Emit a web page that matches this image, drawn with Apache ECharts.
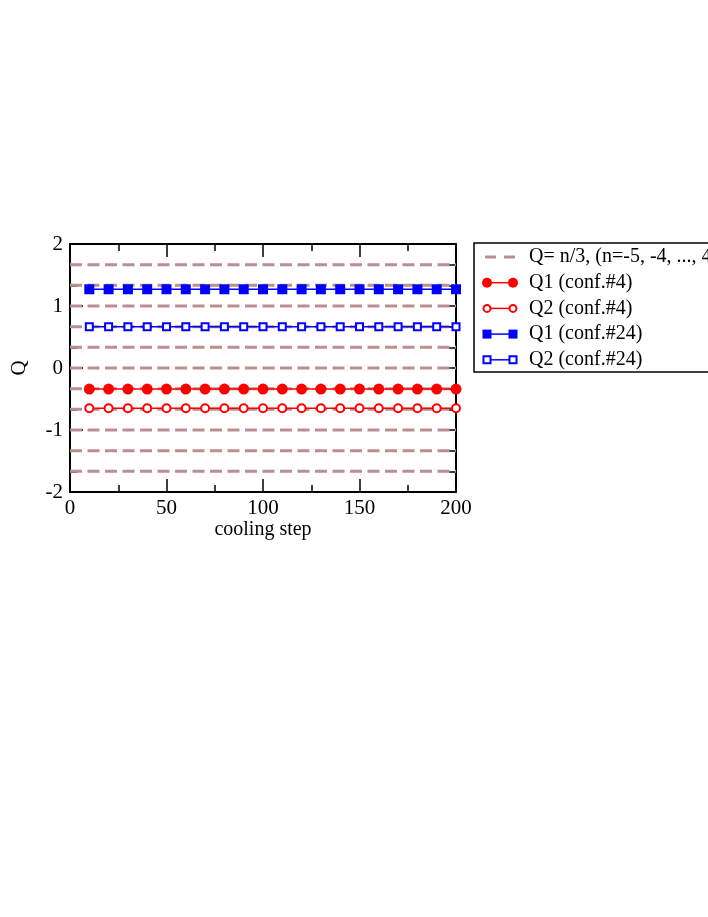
<!DOCTYPE html>
<html>
<head>
<meta charset="utf-8">
<script src="https://cdn.jsdelivr.net/npm/echarts@6/dist/echarts.min.js"></script>
<style>html,body{margin:0;padding:0;background:#fff}#c{width:708px;height:917px}</style>
</head>
<body>
<div id="c"></div>
<script>
const steps = [10,20,30,40,50,60,70,80,90,100,110,120,130,140,150,160,170,180,190,200];
const q1conf4  = [-0.34,-0.34,-0.34,-0.34,-0.34,-0.34,-0.34,-0.34,-0.34,-0.34,-0.34,-0.34,-0.34,-0.34,-0.34,-0.34,-0.34,-0.34,-0.34,-0.34];
const q2conf4  = [-0.65,-0.65,-0.65,-0.65,-0.65,-0.65,-0.65,-0.65,-0.65,-0.65,-0.65,-0.65,-0.65,-0.65,-0.65,-0.65,-0.65,-0.65,-0.65,-0.65];
const q1conf24 = [1.27,1.27,1.27,1.27,1.27,1.27,1.27,1.27,1.27,1.27,1.27,1.27,1.27,1.27,1.27,1.27,1.27,1.27,1.27,1.27];
const q2conf24 = [0.665,0.665,0.665,0.665,0.665,0.665,0.665,0.665,0.665,0.665,0.665,0.665,0.665,0.665,0.665,0.665,0.665,0.665,0.665,0.665];
const nValues = [-5,-4,-3,-2,-1,0,1,2,3,4,5];
const xRange = [0, 200];
const yRange = [-2, 2];
const names = ['Q= n/3, (n=-5, -4, ..., 4, 5)', 'Q1 (conf.#4)', 'Q2 (conf.#4)', 'Q1 (conf.#24)', 'Q2 (conf.#24)'];

const font = 'Liberation Serif';
const RED = '#ff0000', BLUE = '#0000ff', REF = '#bc8f8f';
const refData = [];
nValues.forEach(n => { refData.push([xRange[0], n/3]); refData.push([xRange[1], n/3]); refData.push('-'); });
const pair = arr => steps.map((s,i)=>[s, arr[i]]);

// legend drawn with graphic elements (two markers per entry like the original)
const legendStyles = [
  {kind:'dash'},
  {kind:'circle', fill:RED, stroke:RED, color:RED},
  {kind:'circle', fill:'#fff', stroke:RED, color:RED, hollow:true},
  {kind:'rect', fill:BLUE, stroke:BLUE, color:BLUE},
  {kind:'rect', fill:'#fff', stroke:BLUE, color:BLUE, hollow:true}
];
const LX = 474, LY = 243, LH = 129, rowY0 = 257, rowGap = 25.7, x1 = 487, x2 = 513, tx = 529;
const g = [{type:'rect', shape:{x:LX, y:LY, width:400, height:LH}, style:{fill:'#fff', stroke:'#000', lineWidth:1.5}, z:10}];
legendStyles.forEach((s,i) => {
  const y = rowY0 + i*rowGap;
  if (s.kind === 'dash') {
    g.push({type:'line', shape:{x1:485, y1:y, x2:516, y2:y}, style:{stroke:REF, lineWidth:3, lineDash:[11,8]}, z:11});
  } else {
    g.push({type:'line', shape:{x1:x1, y1:y, x2:x2, y2:y}, style:{stroke:s.color, lineWidth:1.5}, z:11});
    [x1,x2].forEach(cx => {
      if (s.kind === 'circle') {
        g.push({type:'circle', shape:{cx:cx, cy:y, r: s.hollow?3.5:5}, style:{fill:s.fill, stroke:s.stroke, lineWidth:s.hollow?2:0}, z:12});
      } else {
        const h = s.hollow?3.5:4.5;
        g.push({type:'rect', shape:{x:cx-h, y:y-h, width:2*h, height:2*h}, style:{fill:s.fill, stroke:s.stroke, lineWidth:s.hollow?2:0}, z:12});
      }
    });
  }
  g.push({type:'text', x:tx, y:y, style:{text:names[i], fontFamily:font, fontSize:20, fill:'#000', verticalAlign:'middle', align:'left'}, z:12});
});

const axisCommon = {
  axisLine: {show:true, onZero:false, lineStyle:{color:'#000', width:2}},
  splitLine: {show:false},
};
const tick = {inside:true, length:13, lineStyle:{color:'#000', width:1.5}};
const chart = echarts.init(document.getElementById('c'));
chart.setOption({
  animation: false,
  backgroundColor: '#fff',
  grid: {left:70, right:252, top:244, bottom:425, containLabel:false},
  xAxis: [
    Object.assign({type:'value', min:xRange[0], max:xRange[1], interval:50, position:'bottom',
      name:'cooling step', nameLocation:'middle', nameGap:27,
      nameTextStyle:{fontFamily:font, fontSize:20, color:'#000'},
      axisTick:tick,
      minorTick:{show:true, splitNumber:2, length:7, lineStyle:{color:'#000', width:1.5}},
      axisLabel:{fontFamily:font, fontSize:21, color:'#000', margin:6}}, axisCommon),
    Object.assign({type:'value', min:xRange[0], max:xRange[1], interval:50, position:'top',
      axisTick:tick,
      minorTick:{show:true, splitNumber:2, length:7, lineStyle:{color:'#000', width:1.5}},
      axisLabel:{show:false}}, axisCommon)
  ],
  yAxis: [
    Object.assign({type:'value', min:yRange[0], max:yRange[1], interval:1, position:'left',
      name:'Q', nameLocation:'middle', nameGap:40, nameRotate:90,
      nameTextStyle:{fontFamily:font, fontSize:21, color:'#000'},
      axisTick:tick,
      minorTick:{show:true, splitNumber:3, length:7, lineStyle:{color:'#000', width:1.5}},
      axisLabel:{fontFamily:font, fontSize:21, color:'#000', margin:7}}, axisCommon),
    Object.assign({type:'value', min:yRange[0], max:yRange[1], interval:1, position:'right',
      axisTick:tick,
      minorTick:{show:true, splitNumber:3, length:7, lineStyle:{color:'#000', width:1.5}},
      axisLabel:{show:false}}, axisCommon)
  ],
  graphic: g,
  series: [
    {name:names[0], type:'line', data:refData, connectNulls:false, showSymbol:false, symbol:'none', z:1,
     lineStyle:{color:REF, width:3, type:[12,5.5]}, itemStyle:{color:REF}},
    {name:names[1], type:'line', data:pair(q1conf4), symbol:'circle', symbolSize:11,
     lineStyle:{color:RED, width:1.5}, itemStyle:{color:RED}},
    {name:names[2], type:'line', data:pair(q2conf4), symbol:'circle', symbolSize:8,
     lineStyle:{color:RED, width:1.5}, itemStyle:{color:'#fff', borderColor:RED, borderWidth:2}},
    {name:names[3], type:'line', data:pair(q1conf24), symbol:'rect', symbolSize:10,
     lineStyle:{color:BLUE, width:1.5}, itemStyle:{color:BLUE}},
    {name:names[4], type:'line', data:pair(q2conf24), symbol:'rect', symbolSize:7,
     lineStyle:{color:BLUE, width:1.5}, itemStyle:{color:'#fff', borderColor:BLUE, borderWidth:2}}
  ]
});
</script>
</body>
</html>
